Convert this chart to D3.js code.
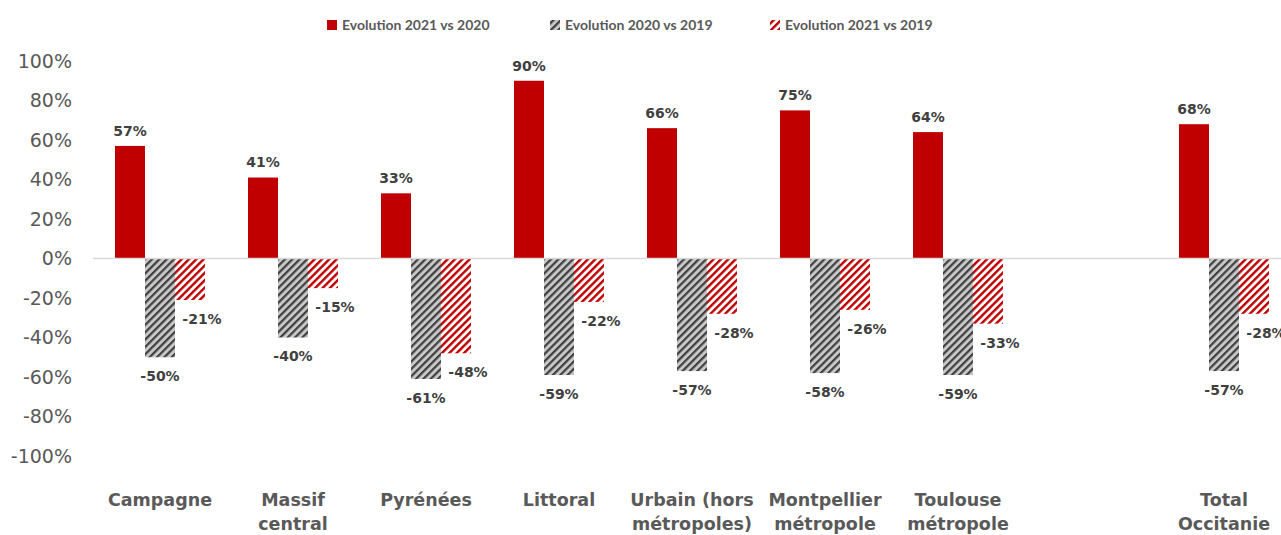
<!DOCTYPE html>
<html>
<head>
<meta charset="utf-8">
<script src="https://cdn.jsdelivr.net/npm/d3@7"></script>
<style>
  body { margin: 0; background: #fff; }
  svg { display: block; font-family: "DejaVu Sans", sans-serif; }
</style>
</head>
<body>
<div id="chart"></div>
<script>
// categories (the blank one is an empty slot before the total)
var categories = ["Campagne", "Massif\ncentral", "Pyrénées", "Littoral", "Urbain (hors\nmétropoles)",
  "Montpellier\nmétropole", "Toulouse\nmétropole", " ", "Total\nOccitanie"];
var seriesNames = ["Evolution 2021 vs 2020", "Evolution 2020 vs 2019", "Evolution 2021 vs 2019"];
var evol2021vs2020 = [57, 41, 33, 90, 66, 75, 64, null, 68];
var evol2020vs2019 = [-50, -40, -61, -59, -57, -58, -59, null, -57];
var evol2021vs2019 = [-21, -15, -48, -22, -28, -26, -33, null, -28];
var yTicks = [-100, -80, -60, -40, -20, 0, 20, 40, 60, 80, 100];

var width = 1281, height = 535;
var textColor = "#595959";

var svg = d3.select("#chart").append("svg")
  .attr("width", width)
  .attr("height", height);

// hatch patterns
var defs = svg.append("defs");
function hatch(id, bg, fg, w) {
  var p = defs.append("pattern")
    .attr("id", id)
    .attr("patternUnits", "userSpaceOnUse")
    .attr("width", 5.2).attr("height", 5.2)
    .attr("patternTransform", "rotate(45)");
  p.append("rect").attr("width", 5.2).attr("height", 5.2).attr("fill", bg);
  p.append("rect").attr("width", w).attr("height", 5.2).attr("fill", fg);
}
hatch("hatchGray", "#c8c8c8", "#3f3f3f", 2.2);
hatch("hatchRed", "#ffffff", "#c00000", 2.4);

var fills = ["#c00000", "url(#hatchGray)", "url(#hatchRed)"];

// scales
var x0 = d3.scaleBand().domain(categories).range([93.5, 1290.5]).padding(0);
var groupW = 90;
var x1 = d3.scaleBand().domain([0, 1, 2])
  .range([(x0.bandwidth() - groupW) / 2, (x0.bandwidth() + groupW) / 2]);
var y = d3.scaleLinear().domain([-100, 100]).range([456, 61]);

// y axis
var yAxis = svg.append("g")
  .attr("transform", "translate(72,0)")
  .call(d3.axisLeft(y).tickValues(yTicks).tickSize(0).tickPadding(0)
    .tickFormat(function(d) { return d + "%"; }));
yAxis.select(".domain").remove();
yAxis.selectAll("text")
  .style("font-size", "19px")
  .style("font-family", "\"DejaVu Sans\", sans-serif")
  .attr("fill", textColor);

// data rows
var rows = categories.map(function(c, i) {
  return { cat: c, vals: [evol2021vs2020[i], evol2020vs2019[i], evol2021vs2019[i]] };
});
function barData(d) {
  return d.vals.map(function(v, k) { return { v: v, k: k }; })
    .filter(function(e) { return e.v !== null; });
}

var groups = svg.append("g").selectAll("g")
  .data(rows)
  .enter().append("g")
  .attr("transform", function(d) { return "translate(" + x0(d.cat) + ",0)"; });

groups.selectAll("rect")
  .data(barData)
  .enter().append("rect")
  .attr("x", function(d) { return x1(d.k); })
  .attr("width", x1.bandwidth())
  .attr("y", function(d) { return y(Math.max(0, d.v)); })
  .attr("height", function(d) { return Math.abs(y(d.v) - y(0)); })
  .attr("fill", function(d) { return fills[d.k]; });

// zero line
svg.append("line")
  .attr("x1", 93).attr("x2", width)
  .attr("y1", y(0)).attr("y2", y(0))
  .attr("stroke", "#d9d9d9").attr("stroke-width", 1.5);

// value labels
groups.selectAll("text.val")
  .data(barData)
  .enter().append("text")
  .attr("class", "val")
  .attr("x", function(d) { return x1(d.k) + x1.bandwidth() / 2 + (d.k === 2 ? 12 : 0); })
  .attr("y", function(d) { return d.v >= 0 ? y(d.v) - 15 : y(d.v) + 19; })
  .attr("dy", "0.35em")
  .attr("text-anchor", "middle")
  .attr("fill", "#404040")
  .style("font-size", "14px")
  .style("font-weight", "bold")
  .text(function(d) { return d.v + "%"; });

// category labels
groups.append("text")
  .attr("x", x0.bandwidth() / 2)
  .attr("y", 506)
  .attr("text-anchor", "middle")
  .attr("fill", textColor)
  .style("font-size", "17.5px")
  .style("font-weight", "bold")
  .selectAll("tspan")
  .data(function(d) { return d.cat.split("\n"); })
  .enter().append("tspan")
  .attr("x", x0.bandwidth() / 2)
  .attr("dy", function(d, i) { return i === 0 ? 0 : 24; })
  .text(function(d) { return d; });

// legend
var legendX = [327, 550, 770];
var legend = svg.append("g").selectAll("g")
  .data(seriesNames)
  .enter().append("g")
  .attr("transform", function(d, i) { return "translate(" + legendX[i] + ",0)"; });
legend.append("rect")
  .attr("x", 0).attr("y", 20).attr("width", 10).attr("height", 10)
  .attr("fill", function(d, i) { return fills[i]; });
legend.append("text")
  .attr("x", 15).attr("y", 25).attr("dy", "0.35em")
  .attr("fill", textColor)
  .style("font-family", "Lato, sans-serif")
  .style("font-size", "14px")
  .style("font-weight", "bold")
  .text(function(d) { return d; });
</script>
</body>
</html>
